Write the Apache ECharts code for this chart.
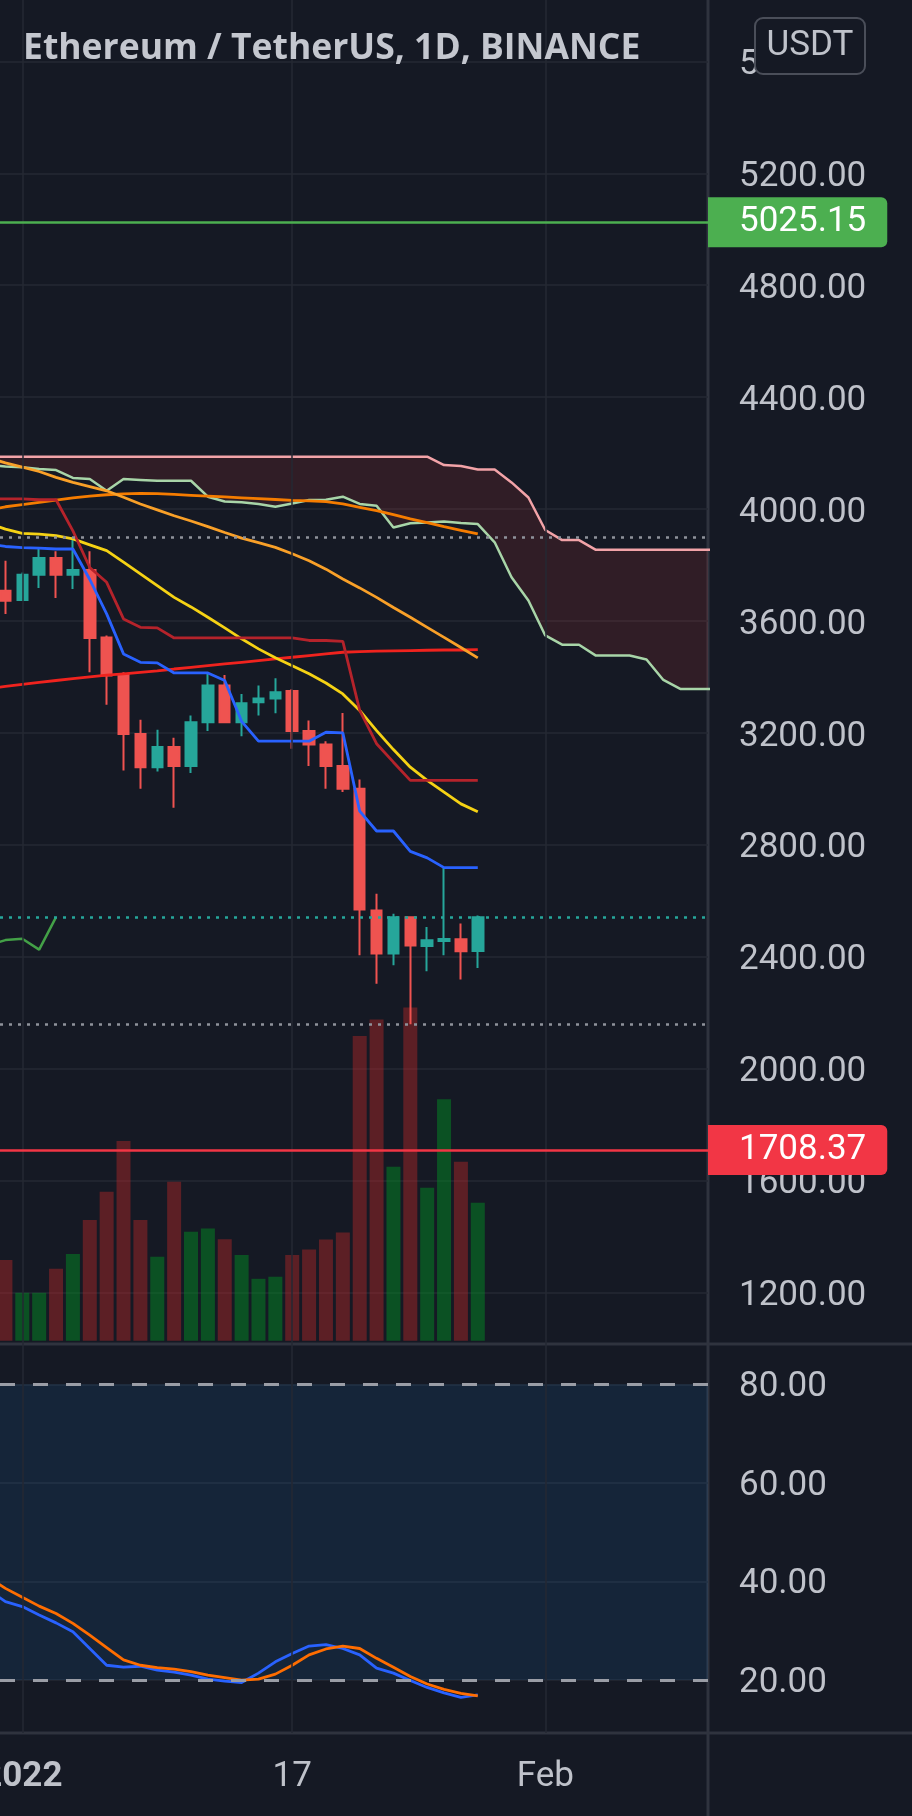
<!DOCTYPE html>
<html>
<head>
<meta charset="utf-8">
<script src="https://cdn.jsdelivr.net/npm/echarts@6/dist/echarts.min.js"></script>
<style>
html,body{margin:0;padding:0;background:#151924;}
#c{width:912px;height:1816px;}
</style>
</head>
<body>
<div id="c"></div>
<script>
// ---------- DATA (day index: 0 = 1 Jan 2022) ----------
const candleDays = [-1,0,1,2,3,4,5,6,7,8,9,10,11,12,13,14,15,16,17,18,19,20,21,22,23,24,25,26,27];
const opens  = [3708,3675,3765,3825,3765,3782,3541,3408,3196,3077,3149,3081,3238,3369,3238,3309,3323,3349,3206,3158,3081,3000,2565,2411,2541,2438,2456,2462,2420];
const closes = [3672,3765,3825,3765,3782,3539,3405,3196,3077,3149,3081,3238,3369,3238,3306,3323,3345,3206,3158,3081,3000,2568,2411,2541,2440,2458,2463,2419,2541];
const lows   = [3625,3672,3718,3682,3714,3416,3300,3065,3000,3062,2932,3056,3206,3234,3188,3262,3270,3143,3081,3000,2988,2405,2303,2369,2158,2348,2405,2318,2359];
const highs  = [3815,3773,3857,3849,3899,3849,3548,3416,3247,3211,3182,3262,3414,3407,3339,3369,3395,3357,3244,3170,3271,3033,2625,2553,2541,2506,2718,2518,2547];
const volumes = [283,168,168,252,304,423,522,700,423,294,557,382,393,356,300,217,224,300,320,355,379,1068,1126,610,1168,536,846,627,484]; // K ETH

const lineDays = [-2,-1,0,1,2,3,4,5,6,7,8,9,10,11,12,13,14,15,16,17,18,19,20,21,22,23,24,25,26,27];
const tenkan     = [3875,3866,3862,3860,3857,3857,3748,3625,3482,3452,3450,3414,3414,3414,3387,3241,3170,3170,3170,3170,3202,3200,2920,2849,2849,2776,2753,2718,2718,2718];
const kijun      = [4036,4036,4036,4033,4033,3922,3791,3738,3607,3577,3575,3539,3539,3539,3539,3539,3539,3539,3539,3530,3530,3527,3280,3161,3095,3030,3030,3030,3030,3030];
const ma200      = [3357,3366,3373,3380,3387,3394,3400,3406,3411,3416,3421,3428,3434,3440,3446,3452,3458,3464,3470,3476,3482,3488,3490,3492,3493,3494,3495,3496,3496,3497];
const maYellow   = [3950,3928,3913,3910,3905,3893,3872,3851,3810,3768,3726,3684,3650,3613,3575,3536,3500,3468,3440,3411,3378,3339,3280,3208,3140,3077,3030,2988,2946,2918];
const maOrange   = [4182,4165,4150,4134,4113,4095,4080,4065,4042,4018,3997,3976,3957,3937,3916,3896,3880,3863,3840,3815,3785,3750,3718,3684,3648,3613,3577,3541,3505,3468];
const maDarkOrg  = [3995,4008,4016,4024,4032,4040,4046,4051,4054,4056,4055,4052,4049,4046,4043,4040,4037,4034,4031,4029,4026,4018,4006,3994,3980,3965,3951,3937,3924,3911];
const stochK     = [38.3,35.9,34.9,33.2,31.6,29.8,26.4,23.0,22.6,22.8,22.0,21.6,21.0,20.2,19.8,19.5,21.4,23.7,25.4,26.9,27.2,26.4,25.1,22.4,21.4,19.9,18.5,17.4,16.5,17.0];
const stochD     = [40.8,38.6,36.8,35.0,33.5,31.5,29.1,26.6,24.1,23.0,22.5,22.2,21.7,21.0,20.5,20.0,20.2,21.2,23.0,25.1,26.3,26.9,26.4,24.4,22.6,20.7,19.2,18.1,17.3,16.8];

const cloudDays = [-2,-1,0,1,2,3,4,5,6,7,8,9,10,11,12,13,14,15,16,17,18,19,20,21,22,23,24,25,26,27,28,29,30,31,32,33,34,35,36,37,38,39,40,41];
const spanA = [4156,4152,4149,4143,4139,4111,4107,4065,4107,4104,4101,4101,4101,4044,4027,4024,4018,4008,4020,4032,4033,4044,4018,4012,3934,3949,3952,3955,3950,3946,3881,3756,3673,3548,3515,3515,3476,3476,3476,3462,3389,3357,3357,3357];
const spanB = [4187,4187,4187,4187,4187,4187,4187,4187,4187,4187,4187,4187,4187,4187,4187,4187,4187,4187,4187,4187,4187,4187,4187,4187,4187,4187,4187,4157,4154,4141,4141,4095,4041,3925,3889,3889,3854,3854,3854,3854,3854,3854,3854,3854];

const chikouDays = [-2,-1,0,1,2];
const chikou = [2441,2459,2464,2425,2541];

const levelGreen = 5025.15;
const levelRed = 1708.37;
const lastPrice = 2539;
const rangeHigh = 3899;
const rangeLow = 2157;

const timeTicks = [0,16,31];
const timeTickLabels = ['2022','17','Feb'];
const rsiBand = [20,80];

// ---------- STYLE ----------
const BG = '#151924';
const GRIDC = '#242833';
const TEXT = '#bfc2ca';
const SEP = '#2f333e';
const UP = '#26a69a', DOWN = '#ef5350';
const X_MIN = -1.322, X_MAX = 40.646;

const chart = echarts.init(document.getElementById('c'), null, {renderer:'canvas'});

const xa = (g) => ({type:'value', gridIndex:g, min:X_MIN, max:X_MAX, show:false});
const pts = (xs, ys) => xs.map((d,i)=>[d, ys[i]]);
const lineS = (name, xs, ys, color, width, z) => ({
  name, type:'line', xAxisIndex:0, yAxisIndex:0, data: pts(xs, ys),
  symbol:'none', showSymbol:false, silent:true, z: z||4,
  lineStyle:{color, width}
});

const priceSplitColors = ['transparent'].concat(new Array(13).fill(GRIDC));
const labelRich = (pad) => ({v:{padding:[pad,0,0,0], fontSize:35, fontFamily:'Roboto', color:TEXT}});

const option = {
  backgroundColor: BG,
  animation: false,
  grid: [
    {left:0, right:204, top:-50.5, height:1454.7, outerBoundsMode:'none', containLabel:false},
    {left:0, right:204, top:0, height:1340.7, outerBoundsMode:'none', containLabel:false},
    {left:0, right:204, top:1285.8, height:492.8, outerBoundsMode:'none', containLabel:false},
    {left:0, right:204, top:0, height:1733, outerBoundsMode:'none', containLabel:false}
  ],
  xAxis: [
    xa(0), xa(1), xa(2),
    {type:'value', gridIndex:3, min:X_MIN, max:X_MAX,
     axisLine:{show:false}, axisTick:{show:false}, splitLine:{show:false},
     axisLabel:{customValues: timeTicks, margin:44, verticalAlign:'middle',
       color:TEXT, fontSize:35, fontFamily:'Roboto',
       formatter:(v)=>{const i=timeTicks.indexOf(v); if(i<0) return ''; return i===0?'{y|'+timeTickLabels[i]+'}':timeTickLabels[i];},
       rich:{y:{fontWeight:'bold', fontSize:35, fontFamily:'Roboto', color:TEXT}}}}
  ],
  yAxis: [
    {type:'value', gridIndex:0, position:'right', min:800, max:6000, interval:400,
     axisLine:{show:false}, axisTick:{show:false},
     axisLabel:{margin:31, color:TEXT, fontSize:35, fontFamily:'Roboto', rich: labelRich(8),
       formatter:(v)=> (v<1000||v>5800)?'':'{v|'+v.toFixed(2)+'}'},
     splitLine:{show:true, lineStyle:{color:priceSplitColors, width:1.5}}},
    {type:'value', gridIndex:1, min:0, max:4700, show:false},
    {type:'value', gridIndex:2, position:'right', min:0, max:100, interval:20,
     axisLine:{show:false}, axisTick:{show:false},
     axisLabel:{margin:31, color:TEXT, fontSize:35, fontFamily:'Roboto', rich: labelRich(6),
       formatter:(v)=> (v<=0||v>=100)?'':'{v|'+v.toFixed(2)+'}'},
     splitLine:{show:true, lineStyle:{color:['transparent',GRIDC,GRIDC,GRIDC,GRIDC,'transparent'], width:1.5}}},
    {type:'value', gridIndex:3, min:0, max:1, show:false}
  ],
  series: [
    // RSI band
    {type:'line', xAxisIndex:2, yAxisIndex:2, data:[[X_MIN,50]], symbol:'none', silent:true, z:1,
     lineStyle:{width:0},
     markArea:{silent:true, itemStyle:{color:'rgba(33,150,243,0.10)'}, data:[[{yAxis:rsiBand[0]},{yAxis:rsiBand[1]}]]}},
    // vertical time grid lines
    {type:'line', xAxisIndex:3, yAxisIndex:3, data:[[X_MIN,0.5]], symbol:'none', silent:true, z:1,
     lineStyle:{width:0},
     markLine:{silent:true, symbol:'none', label:{show:false},
       lineStyle:{color:GRIDC, width:1.5, type:'solid'},
       data: timeTicks.map(v=>({xAxis:v}))}},
    // RSI dashed bounds
    {type:'line', xAxisIndex:2, yAxisIndex:2, data:[[X_MIN,50]], symbol:'none', silent:true, z:2,
     lineStyle:{width:0},
     markLine:{silent:true, symbol:'none', label:{show:false},
       lineStyle:{color:'#9a9da6', width:3, type:[15,18]},
       data: rsiBand.map(v=>({yAxis:v}))}},
    // price levels
    {type:'line', xAxisIndex:0, yAxisIndex:0, data:[[X_MIN,3000]], symbol:'none', silent:true, z:1,
     lineStyle:{width:0},
     markLine:{silent:true, symbol:'none', precision:2,
       data:[
         {yAxis:levelGreen, lineStyle:{color:'#4caf50', width:2.5, type:'solid'},
          label:{show:true, position:'end', distance:0, formatter:()=>levelGreen.toFixed(2), color:'#ffffff',
            backgroundColor:'#4caf50', padding:[8,21,7,31], borderRadius:[0,6,6,0], fontSize:35, fontFamily:'Roboto'}},
         {yAxis:levelRed, lineStyle:{color:'#f23645', width:2.5, type:'solid'},
          label:{show:true, position:'end', distance:0, formatter:()=>levelRed.toFixed(2), color:'#ffffff',
            backgroundColor:'#f23645', padding:[8,21,7,31], borderRadius:[0,6,6,0], fontSize:35, fontFamily:'Roboto'}},
         {yAxis:rangeHigh, lineStyle:{color:'#8f929b', width:2.5, type:[3,6]}, label:{show:false}},
         {yAxis:rangeLow, lineStyle:{color:'#8f929b', width:2.5, type:[3,6]}, label:{show:false}},
         {yAxis:lastPrice, lineStyle:{color:UP, width:2.5, type:[3,6]}, label:{show:false}}
       ]}},
    // volume
    {type:'bar', xAxisIndex:1, yAxisIndex:1, barWidth:14, silent:true, z:2,
     data: candleDays.map((d,i)=>({value:[d, volumes[i]],
       itemStyle:{color: closes[i]>=opens[i] ? 'rgba(0,150,35,0.45)' : 'rgba(200,40,40,0.40)'}}))},
    // ichimoku cloud fill (polygon between span A and span B)
    {type:'custom', xAxisIndex:0, yAxisIndex:0, silent:true, z:2,
     data:[[cloudDays[0], spanA[0]]],
     renderItem:(params, api)=>{
       const top = cloudDays.map((d,i)=>api.coord([d, spanB[i]]));
       const bot = cloudDays.map((d,i)=>api.coord([d, spanA[i]])).reverse();
       const cs = params.coordSys;
       return {type:'polygon', shape:{points: top.concat(bot)},
         style:{fill:'rgba(244,67,54,0.12)'},
         clipPath:{type:'rect', shape:{x:cs.x, y:cs.y, width:cs.width, height:cs.height}}};
     }},
    lineS('spanA', cloudDays, spanA, '#a8d5a8', 2.5, 2),
    lineS('spanB', cloudDays, spanB, '#f2a3a8', 2.5, 2),
    // candles
    {type:'candlestick', xAxisIndex:0, yAxisIndex:0, silent:true, z:3, barWidth:11,
     encode:{x:0, y:[1,2,3,4]},
     data: candleDays.map((d,i)=>[d, opens[i], closes[i], lows[i], highs[i]]),
     itemStyle:{color:UP, color0:DOWN, borderColor:UP, borderColor0:DOWN, borderWidth:2}},
    // indicator lines
    lineS('ma200', lineDays, ma200, '#f0231e', 2.8),
    lineS('darkorange', lineDays, maDarkOrg, '#f57c00', 2.8),
    lineS('orange', lineDays, maOrange, '#f9a028', 2.8),
    lineS('yellow', lineDays, maYellow, '#f5d214', 2.8),
    lineS('kijun', lineDays, kijun, '#b5232b', 2.8),
    lineS('tenkan', lineDays, tenkan, '#2962ff', 2.8),
    lineS('chikou', chikouDays, chikou, '#43a047', 2.5),
    // stoch
    {type:'line', xAxisIndex:2, yAxisIndex:2, data: pts(lineDays, stochK), symbol:'none', silent:true, z:3,
     lineStyle:{color:'#2962ff', width:2.8}},
    {type:'line', xAxisIndex:2, yAxisIndex:2, data: pts(lineDays, stochD), symbol:'none', silent:true, z:3,
     lineStyle:{color:'#ff6d00', width:2.8}}
  ],
  graphic: {elements: [
    {type:'line', silent:true, z:0, shape:{x1:0,y1:1344,x2:912,y2:1344}, style:{stroke:SEP, lineWidth:3}},
    {type:'line', silent:true, z:0, shape:{x1:0,y1:1733,x2:912,y2:1733}, style:{stroke:SEP, lineWidth:3}},
    {type:'line', silent:true, z:0, shape:{x1:708,y1:0,x2:708,y2:1816}, style:{stroke:SEP, lineWidth:3}},
    {type:'text', silent:true, z:20, x:23, y:49,
     style:{text:'Ethereum / TetherUS, 1D, BINANCE', font:'bold 35.5px "Open Sans"', fill:'#c4c7cf', verticalAlign:'middle'}},
    {type:'rect', silent:true, z:20, shape:{x:755,y:18,width:110,height:56,r:8},
     style:{fill:BG, stroke:'#4a4e59', lineWidth:2}},
    {type:'text', silent:true, z:21, x:810, y:46,
     style:{text:'USDT', font:'35px Roboto', fill:TEXT, align:'center', verticalAlign:'middle'}}
  ]}
};
chart.setOption(option);
</script>
</body>
</html>
